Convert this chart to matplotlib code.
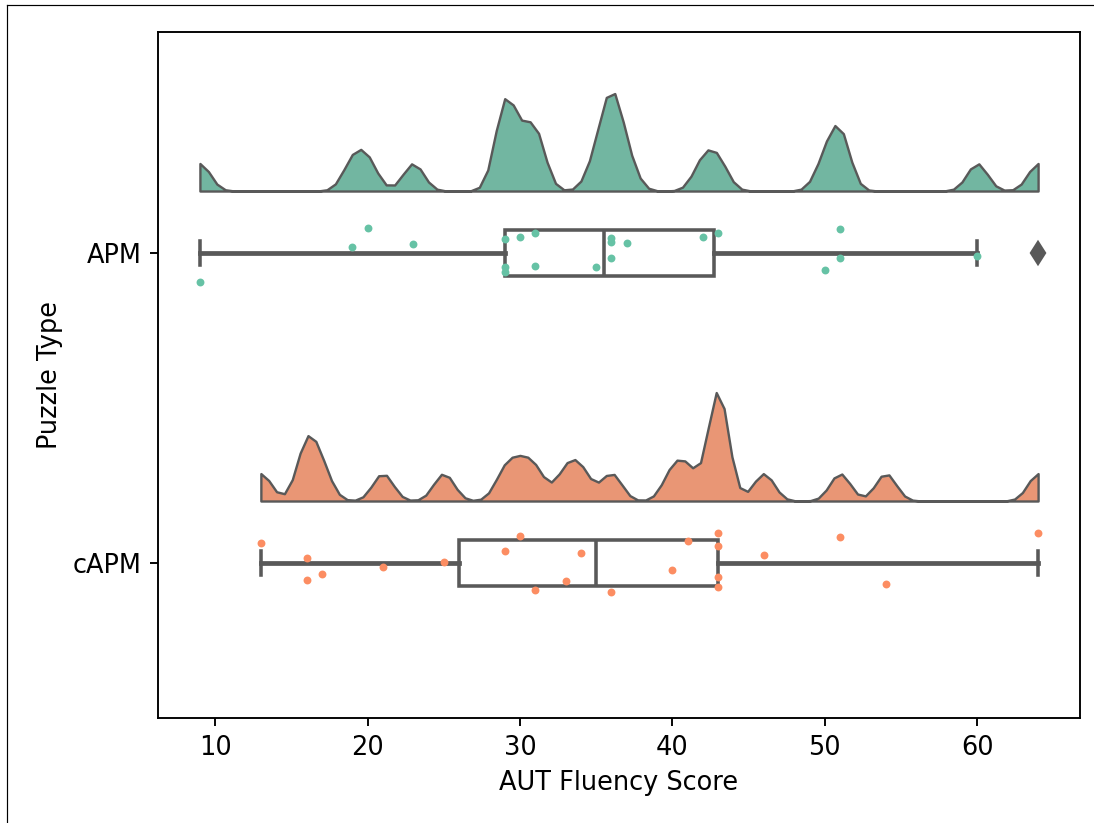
import colorsys
import numpy as np
import matplotlib
matplotlib.use("Agg")
import matplotlib.pyplot as plt
from matplotlib.lines import Line2D

# scores
groups = ["APM", "cAPM"]
apm = [9, 19, 20, 23, 29, 29, 29, 30, 31, 31, 35, 36, 36, 36, 37,
       42, 43, 50, 51, 51, 60, 64]
capm = [13, 16, 16, 17, 21, 25, 29, 30, 31, 33, 34, 36, 40, 41,
        43, 43, 43, 43, 46, 51, 54, 64]
# vertical jitter of each point (same order as the scores)
apm_jit = [0.094, -0.019, -0.081, -0.029, -0.045, 0.045, 0.061, -0.052,
           -0.065, 0.042, 0.045, -0.048, -0.035, 0.016, -0.032, -0.052,
           -0.065, 0.055, -0.077, 0.016, 0.010, 0.0]
capm_jit = [-0.065, -0.016, 0.055, 0.035, 0.013, -0.003, -0.039, -0.087,
            0.087, 0.058, -0.032, 0.094, 0.023, -0.071, -0.097, -0.055,
            0.045, 0.077, -0.026, -0.084, 0.068, -0.097]
data = [apm, capm]
jits = [apm_jit, capm_jit]

set2 = ["#66c2a5", "#fc8d62"]
gray = "#595959"

plt.rcParams["font.size"] = 10.8


def desat(c, p=0.75):
    r, g, b = matplotlib.colors.to_rgb(c)
    h, l, s = colorsys.rgb_to_hls(r, g, b)
    return colorsys.hls_to_rgb(h, l, s * p)


def kde(vals, bw=0.05, n=100):
    v = np.asarray(vals, dtype=float)
    sig = bw * v.std(ddof=1)
    grid = np.linspace(v.min(), v.max(), n)
    d = np.exp(-0.5 * ((grid[:, None] - v[None, :]) / sig) ** 2).sum(1)
    return grid, d / (len(v) * sig * np.sqrt(2 * np.pi))


fig = plt.figure(figsize=(1094 / 171, 823 / 171), dpi=171)
ax = fig.add_axes([158 / 1094, 1 - 718 / 823, (1080 - 158) / 1094, (718 - 32) / 823])

# half violins ("clouds")
kdes = [kde(d) for d in data]
scale = 0.35 / max(k[1].max() for k in kdes)
for i, (grid, dens) in enumerate(kdes):
    base = i - 0.2
    ax.fill_between(grid, base, base - dens * scale, facecolor=desat(set2[i]),
                    edgecolor=gray, linewidth=1.0, zorder=2)

# boxes
bp = ax.boxplot(data, positions=[0, 1], orientation="horizontal", widths=0.15,
                patch_artist=True, manage_ticks=False,
                boxprops=dict(facecolor="none", edgecolor=gray, linewidth=1.5),
                whiskerprops=dict(color=gray, linewidth=2),
                capprops=dict(color=gray, linewidth=1.5),
                medianprops=dict(color=gray, linewidth=1.5),
                flierprops=dict(marker="d", markerfacecolor=gray, markeredgecolor=gray,
                                markersize=6.5),
                zorder=10)
for f in bp["fliers"]:
    f.set_zorder(25)

# rain
for i in range(2):
    ax.scatter(data[i], i + np.array(jits[i]), s=11, color=set2[i],
               linewidth=0, zorder=20)

ax.set_yticks([0, 1])
ax.set_yticklabels(groups)
ax.set_xlim(6.25, 66.75)
ax.set_ylim(1.5, -0.713)
ax.set_xlabel("AUT Fluency Score")
ax.set_ylabel("Puzzle Type")

# screenshot border
fig.add_artist(Line2D([7 / 1094, 1], [1 - 5 / 823] * 2, transform=fig.transFigure,
                      color="k", lw=0.5))
fig.add_artist(Line2D([7 / 1094] * 2, [0, 1 - 5 / 823], transform=fig.transFigure,
                      color="k", lw=0.5))

fig.savefig("out.png", dpi=171)
